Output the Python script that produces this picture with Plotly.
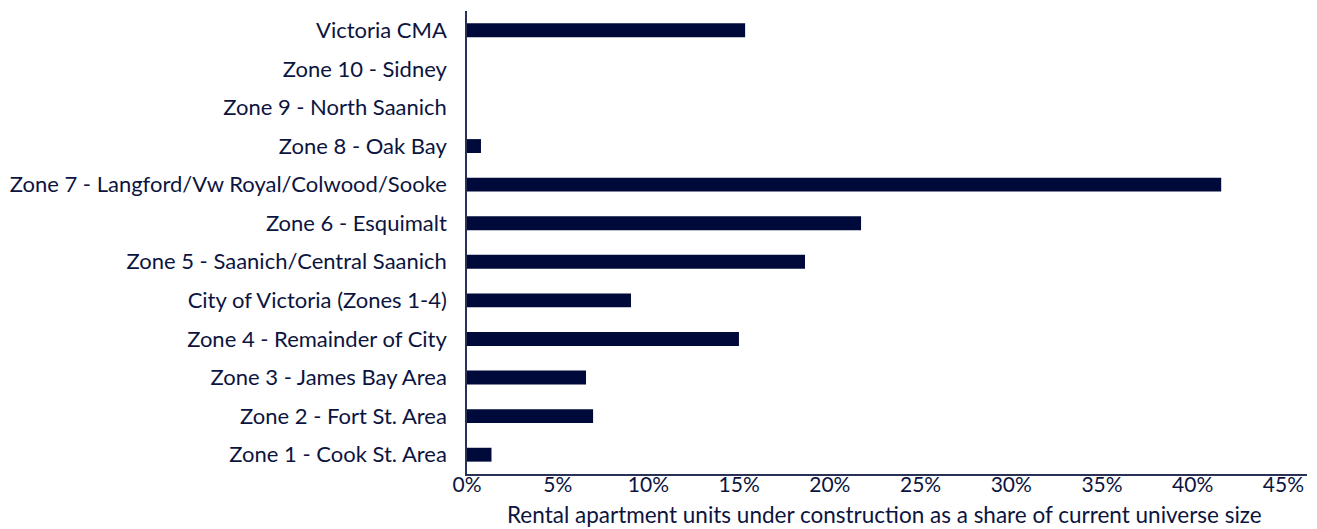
import plotly.graph_objects as go

categories = [
    "Zone 1 - Cook St. Area",
    "Zone 2 - Fort St. Area",
    "Zone 3 - James Bay Area",
    "Zone 4 - Remainder of City",
    "City of Victoria (Zones 1-4)",
    "Zone 5 - Saanich/Central Saanich",
    "Zone 6 - Esquimalt",
    "Zone 7 - Langford/Vw Royal/Colwood/Sooke",
    "Zone 8 - Oak Bay",
    "Zone 9 - North Saanich",
    "Zone 10 - Sidney",
    "Victoria CMA",
]
share_under_construction = [0.0135, 0.0695, 0.0656, 0.1499, 0.0904, 0.1863,
                            0.2172, 0.4157, 0.0077, 0.0, 0.0, 0.1533]
tick_values = [0, 0.05, 0.10, 0.15, 0.20, 0.25, 0.30, 0.35, 0.40, 0.45]
tick_labels = ["0%", "5%", "10%", "15%", "20%", "25%", "30%", "35%", "40%", "45%"]
x_title = "Rental apartment units under construction as a share of current universe size"

NAVY = "#000a3a"
TEXT = "#0c1440"
FONT = "Lato"

fig = go.Figure(go.Bar(
    x=share_under_construction,
    y=categories,
    orientation="h",
    marker=dict(color=NAVY, line=dict(width=0)),
))

# page body has an 8px margin: figure is sized to the visible area
fig.update_layout(
    width=1309, height=521,
    margin=dict(l=459, r=10, t=3, b=55),
    paper_bgcolor="white", plot_bgcolor="white",
    bargap=0.64,
    showlegend=False,
    font=dict(family=FONT, color=TEXT, size=21),
    annotations=[dict(
        text=x_title, xref="paper", yref="paper", x=0.497, y=-0.087,
        xanchor="center", yanchor="middle", showarrow=False,
        font=dict(size=22.5, color=TEXT, family=FONT),
    )],
)
fig.update_xaxes(
    automargin=False,
    range=[0, 0.463],
    tickvals=tick_values, ticktext=tick_labels,
    showgrid=False, zeroline=False,
    showline=True, linecolor="#2a3157", linewidth=1.5,
    ticks="", ticklabelstandoff=-9,
    tickfont=dict(size=21, color=TEXT, family=FONT),
)
fig.update_yaxes(
    automargin=False,
    categoryorder="array", categoryarray=categories,
    showgrid=False, zeroline=False,
    showline=True, linecolor="#2a3157", linewidth=1.5,
    ticks="outside", ticklen=14, tickcolor="rgba(0,0,0,0)",
    tickfont=dict(size=22, color=TEXT, family=FONT),
)

fig.write_html("out.html")
